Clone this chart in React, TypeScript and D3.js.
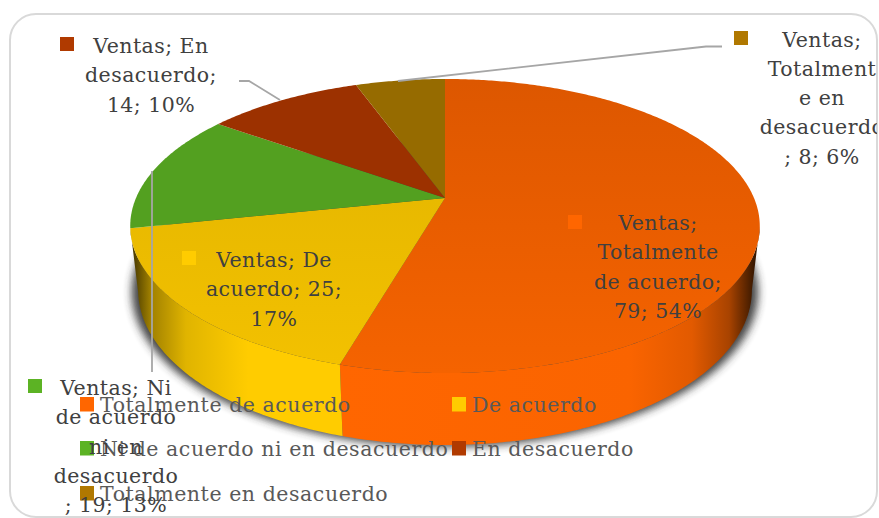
import React from "react";
import * as d3 from "d3";

const categories = ["Totalmente de acuerdo", "De acuerdo", "Ni de acuerdo ni en desacuerdo", "En desacuerdo", "Totalmente en desacuerdo"];
const values = [79, 25, 19, 14, 8];
const topColors = ["url(#topOrange)", "url(#topYellow)", "#53A020", "#9C3100", "#966B00"];
const markerColors = ["#FF6600", "#FFCC00", "#5CB324", "#B03A00", "#B07800"];
const labelLines = [
  ["Ventas;", "Totalmente", "de acuerdo;", "79; 54%"],
  ["Ventas; De", "acuerdo; 25;", "17%"],
  ["Ventas; Ni", "de acuerdo", "ni en", "desacuerdo", "; 19; 13%"],
  ["Ventas; En", "desacuerdo;", "14; 10%"],
  ["Ventas;", "Totalment", "e en", "desacuerdo", "; 8; 6%"],
];

const W = 879, H = 518;
const FONT = "'DejaVu Serif', serif";
const cx = 445, cy = 198, bx = 309, ay = 141.7, k = -0.1905;
const ringCy = 226;

const labelX = [658, 274, 116, 151, 822];
const labelY = [230, 267, 395, 53, 46.5];
const labelStep = 29.3;
const labelMarkers: [number, number][] = [[568, 215], [182, 251], [28, 379], [60, 37], [734, 31]];
const legendPos: [number, number][] = [[80, 397], [452, 397], [80, 441], [452, 441], [80, 486]];

const project = (a: number): [number, number] => {
  const u = Math.sin(a), v = -Math.cos(a), w = 1 + k * v;
  return [cx + (bx * u) / w, cy + (ay * v) / w];
};
const projectBase = (a: number, sx = 0.975): [number, number] => {
  const [x, y] = project(a);
  return [cx + (x - cx) * sx, 290 + (y - ringCy) * 1.054];
};
const steps = (a0: number, a1: number) => {
  const n = Math.max(2, Math.ceil(Math.abs(a1 - a0) / 0.01));
  return d3.range(n + 1).map((i) => a0 + ((a1 - a0) * i) / n);
};
const line = d3.line<[number, number]>().x((d) => d[0]).y((d) => d[1]);

const arcs = d3.pie<number>().sort(null).value((d) => d)(values);
const silR = Math.acos(k);
const silL = 2 * Math.PI - silR;
const TAU = 2 * Math.PI;

const wedge = (a0: number, a1: number) => line([[cx, cy], ...steps(a0, a1).map(project)]) + "Z";
const side = (a0: number, a1: number) =>
  line([...steps(a0, a1).map(project), ...steps(a1, a0).map((a) => projectBase(a))]) + "Z";
const shadow = line(steps(0, TAU).map((a) => projectBase(a, 0.995))) + "Z";

const sideFills = ["url(#sideOrange)", "url(#sideYellow)"];

export default function App() {
  return (
    <svg width={W} height={H} viewBox={`0 0 ${W} ${H}`} style={{ position: "absolute", left: 0, top: 0, display: "block", background: "#fff" }}>
      <defs>
        <linearGradient id="topOrange" gradientUnits="userSpaceOnUse" x1="0" y1="80" x2="0" y2="372">
          <stop offset="0" stopColor="#DD5700" />
          <stop offset="1" stopColor="#F56300" />
        </linearGradient>
        <linearGradient id="topYellow" gradientUnits="userSpaceOnUse" x1="0" y1="200" x2="0" y2="372">
          <stop offset="0" stopColor="#E8B900" />
          <stop offset="1" stopColor="#F3C100" />
        </linearGradient>
        <linearGradient id="sideOrange" gradientUnits="userSpaceOnUse" x1="340" y1="0" x2="754" y2="0">
          <stop offset="0" stopColor="#FF6600" />
          <stop offset="0.7" stopColor="#FA6400" />
          <stop offset="0.85" stopColor="#E25A00" />
          <stop offset="0.94" stopColor="#A84300" />
          <stop offset="1" stopColor="#3A1800" />
        </linearGradient>
        <linearGradient id="sideYellow" gradientUnits="userSpaceOnUse" x1="134" y1="0" x2="342" y2="0">
          <stop offset="0" stopColor="#4E3E00" />
          <stop offset="0.08" stopColor="#A08000" />
          <stop offset="0.25" stopColor="#E0B400" />
          <stop offset="0.55" stopColor="#FFCC00" />
          <stop offset="1" stopColor="#FFCC00" />
        </linearGradient>
        <filter id="blur" x="-10%" y="-10%" width="120%" height="120%">
          <feGaussianBlur stdDeviation="4.5" />
        </filter>
        <clipPath id="frameClip">
          <rect x="0" y="0" width="877" height={H} />
        </clipPath>
      </defs>
      <rect x="10" y="14" width="867" height="503" rx="26" fill="#fff" stroke="#D9D9D9" strokeWidth="2" />

      <path d={shadow} fill="#333" opacity="0.9" filter="url(#blur)" transform="translate(0,2)" />

      {[0, 1].map((i) => {
        const a0 = i === 0 ? silR : arcs[1].startAngle;
        const a1 = i === 0 ? arcs[0].endAngle : Math.min(arcs[1].endAngle, silL);
        return <path key={i} d={side(a0, a1)} fill={sideFills[i]} />;
      })}

      {arcs.map((a, i) => (
        <path key={i} d={wedge(a.startAngle, a.endAngle)} fill={topColors[i]} />
      ))}

      <g fill="none" stroke="#A6A6A6" strokeWidth="1.8">
        <path d={line([[398, 81], [706, 46.5], [722, 46.5]]) ?? ""} />
        <path d={line([[239, 81], [249, 81], [280, 100]]) ?? ""} />
        <path d={line([[152, 171], [152, 372]]) ?? ""} />
      </g>

      <g fontFamily={FONT} fontSize="20.5" letterSpacing="0.55" fill="#595959">
        {categories.map((c, i) => (
          <g key={c}>
            <rect x={legendPos[i][0]} y={legendPos[i][1]} width="14" height="14.5" fill={markerColors[i]} />
            <text x={legendPos[i][0] + 20} y={legendPos[i][1] + 15}>{c}</text>
          </g>
        ))}
      </g>

      <g fontFamily={FONT} fontSize="20.5" letterSpacing="0.45" fill="#404040" textAnchor="middle" clipPath="url(#frameClip)">
        {labelLines.map((lines, i) => (
          <g key={i}>
            <rect x={labelMarkers[i][0]} y={labelMarkers[i][1]} width="14" height="14" fill={markerColors[i]} />
            {lines.map((t, j) => (
              <text key={j} x={labelX[i]} y={labelY[i] + j * labelStep}>{t}</text>
            ))}
          </g>
        ))}
      </g>
    </svg>
  );
}
